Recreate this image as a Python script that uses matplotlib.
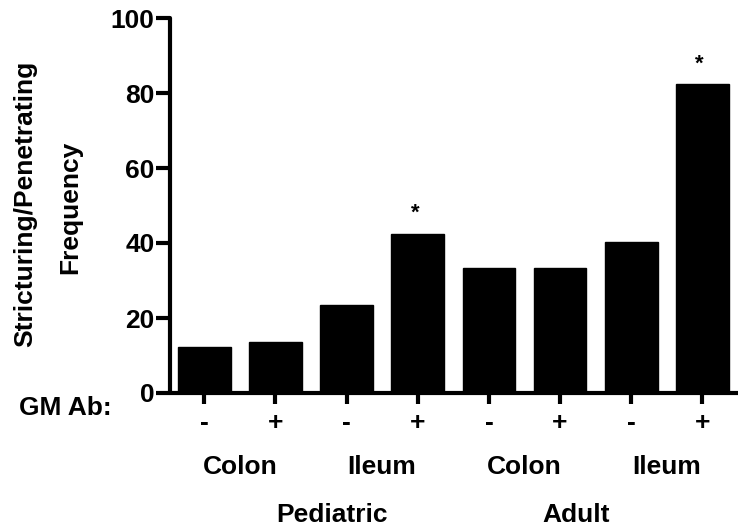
import numpy as np
import matplotlib.pyplot as plt

plt.rcParams['font.family'] = ['Liberation Sans', 'DejaVu Sans']
plt.rcParams['font.weight'] = 'bold'

# data
gm_ab = ["-", "+", "-", "+", "-", "+", "-", "+"]
freq = [12.4, 13.5, 23.4, 42.5, 33.4, 33.4, 40.4, 82.3]
signif = [False, False, False, True, False, False, False, True]
sites = ["Colon", "Ileum", "Colon", "Ileum"]
groups = ["Pediatric", "Adult"]

x = np.arange(len(freq))

fig = plt.figure(figsize=(7.38, 5.28), dpi=100)
ax = fig.add_axes([170/738, 135/528, 568/738, 375/528])

ax.bar(x, freq, width=0.74, color="black", edgecolor="black", zorder=2)

ax.set_xlim(-0.48, 7.5)
ax.set_ylim(0, 100)
ax.set_yticks([0, 20, 40, 60, 80, 100])
ax.set_xticks(x)
ax.set_xticklabels(gm_ab)

for s in ["top", "right"]:
    ax.spines[s].set_visible(False)
for s in ["left", "bottom"]:
    ax.spines[s].set_linewidth(3)
    ax.spines[s].set_capstyle("round")

ax.tick_params(axis="y", direction="out", length=10, width=3, labelsize=19, pad=1)
ax.tick_params(axis="x", direction="out", length=8, width=3, labelsize=19, pad=5)

# significance marks
for xi, v, s in zip(x, freq, signif):
    if s:
        ax.text(xi - 0.04, v + 2.6, "*", ha="center", va="bottom", fontsize=16)

# site labels under each +/- pair
tr = ax.get_xaxis_transform()
for i, name in enumerate(sites):
    ax.text(2*i + 0.5, -0.196, name, ha="center", va="center", fontsize=19, transform=tr)

# age group labels
group_x = [1.8, 5.22]
for gx, name in zip(group_x, groups):
    ax.text(gx, -0.325, name, ha="center", va="center", fontsize=19, transform=tr)

fig.text(65/738, 1 - 408/528, "GM Ab:", ha="center", va="center", fontsize=19)

fig.text(25/738, 1 - 204/528, "Stricturing/Penetrating", rotation=90,
         ha="center", va="center", fontsize=19)
fig.text(70/738, 1 - 207/528, "Frequency", rotation=90,
         ha="center", va="center", fontsize=19)

fig.savefig("out.png", dpi=100)
